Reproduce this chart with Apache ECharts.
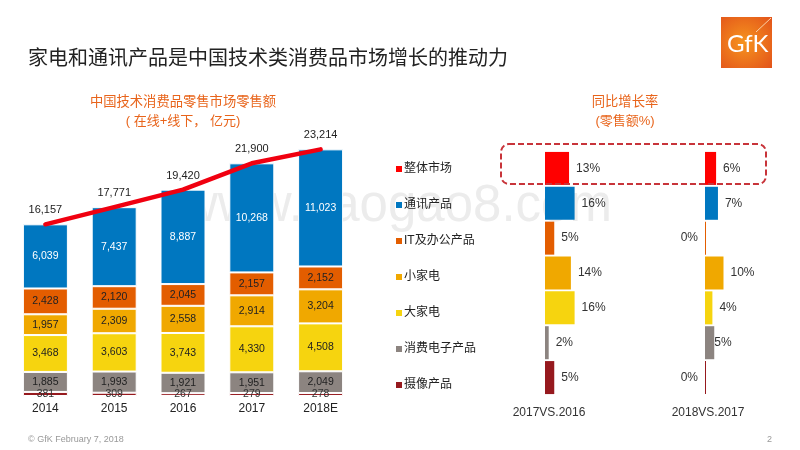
<!DOCTYPE html>
<html>
<head>
<meta charset="utf-8">
<style>html,body{margin:0;padding:0;background:#fff}</style>
<script src="https://cdn.jsdelivr.net/npm/echarts@6/dist/echarts.min.js"></script>
</head>
<body>
<div id="main" style="width:800px;height:450px"></div>
<script>
var FONT = '"Liberation Sans","Noto Sans CJK SC",sans-serif';

var years = ['2014','2015','2016','2017','2018E'];
var totals = [16157,17771,19420,21900,23214];
// stacked from the bottom up
var camera = [381,309,267,279,278];
var consumerElec = [1885,1993,1921,1951,2049];
var bigAppl = [3468,3603,3743,4330,4508];
var smallAppl = [1957,2309,2558,2914,3204];
var itOffice = [2428,2120,2045,2157,2152];
var telecom = [6039,7437,8887,10268,11023];

var categories = ['整体市场','通讯产品','IT及办公产品','小家电','大家电','消费电子产品','摄像产品'];
var colors = ['#ff0000','#0077c0','#e35d00','#f0a800','#f6d40f','#8c8480','#96191e'];
var growth1716 = [13,16,5,14,16,2,5];
var growth1817 = [6,7,0,10,4,5,0];
var compareLabels = ['2017VS.2016','2018VS.2017'];

var myChart = echarts.init(document.getElementById('main'));
var series = [];

function addGrowth(values, idx){
	categories.forEach(function(name, i){
		series.push({
			name: name,
			type: 'bar',
			xAxisIndex: idx,
			yAxisIndex: idx,
			stack: 'g' + idx,
			barWidth: 33,
			barMinHeight: 1,
			itemStyle: {color: colors[i]},
			label: {
				show: true,
				position: values[i] === 0 ? 'left' : 'right',
				distance: (idx === 2 && i === 5) ? 0 : 7,
				formatter: '{c}%',
				fontSize: 12,
				fontFamily: FONT,
				color: '#333'
			},
			data: categories.map(function(c, j){ return j === i ? values[i] : null; })
		});
	});
}
addGrowth(growth1716, 1);
addGrowth(growth1817, 2);

function addStack(name, color, values, labelColor){
	series.push({
		name: name,
		type: 'bar',
		stack: 'total',
		xAxisIndex: 0,
		yAxisIndex: 0,
		barWidth: 45,
		itemStyle: {color: color, borderColor: '#fff', borderWidth: 1},
		label: {
			show: true,
			position: 'inside',
			fontSize: 10.5,
			fontFamily: FONT,
			color: labelColor,
			formatter: function(p){ return p.value.toLocaleString('en-US'); }
		},
		data: values
	});
}
addStack('摄像产品', colors[6], camera, '#333');
addStack('消费电子产品', colors[5], consumerElec, '#222');
addStack('大家电', colors[4], bigAppl, '#222');
addStack('小家电', colors[3], smallAppl, '#222');
addStack('IT及办公产品', colors[2], itOffice, '#222');
addStack('通讯产品', colors[1], telecom, '#fff');

series.push({
	name: '整体市场',
	type: 'line',
	xAxisIndex: 0,
	yAxisIndex: 0,
	z: 5,
	symbol: 'circle',
	symbolSize: 3,
	showSymbol: true,
	lineStyle: {color: '#f00010', width: 4.5, cap: 'round', join: 'round'},
	itemStyle: {color: '#f00010'},
	label: {
		show: true,
		position: 'top',
		distance: 7,
		fontSize: 11,
		fontFamily: FONT,
		color: '#222',
		formatter: function(p){ return p.value.toLocaleString('en-US'); }
	},
	data: totals
});

function text(str, x, y, size, color, align){
	return {text: str, left: x, top: y, padding: 0, textAlign: align || 'left',
		textStyle: {fontSize: size, color: color, fontWeight: 'normal', fontFamily: FONT}};
}

var option = {
	animation: false,
	title: [
		text('家电和通讯产品是中国技术类消费品市场增长的推动力', 28, 49, 20, '#222'),
		text('中国技术消费品零售市场零售额', 183, 96, 13.3, '#e8641b', 'center'),
		text('( 在线+线下， 亿元)', 183, 115, 13, '#e8641b', 'center'),
		text('同比增长率', 625, 96, 13.3, '#e8641b', 'center'),
		text('(零售额%)', 625, 115, 13, '#e8641b', 'center'),
		text(compareLabels[0], 549, 407, 12, '#333', 'center'),
		text(compareLabels[1], 708, 407, 12, '#333', 'center'),
		text('© GfK February 7, 2018', 28, 435, 9, '#999'),
		text('2', 767, 435, 9, '#999')
	],
	legend: {
		orient: 'vertical',
		left: 396,
		top: 163,
		padding: 0,
		itemWidth: 6,
		itemHeight: 6,
		itemGap: 24,
		selectedMode: false,
		textStyle: {fontSize: 12, color: '#222', fontFamily: FONT, padding: [0,0,0,-3]},
		data: categories.map(function(c, i){
			return {name: c, icon: 'rect', itemStyle: {color: colors[i]}};
		})
	},
	grid: [
		{left: 11, top: 141, width: 344, height: 255},
		{left: 545, top: 151, width: 148, height: 244},
		{left: 705, top: 151, width: 74, height: 244}
	],
	xAxis: [
		{type: 'category', gridIndex: 0, data: years,
			axisLine: {show: false}, axisTick: {show: false},
			axisLabel: {fontSize: 12, color: '#222', fontFamily: FONT, margin: 7}},
		{type: 'value', gridIndex: 1, min: 0, max: 80, show: false},
		{type: 'value', gridIndex: 2, min: 0, max: 40, show: false}
	],
	yAxis: [
		{type: 'value', gridIndex: 0, min: 0, max: 24000, show: false},
		{type: 'category', gridIndex: 1, inverse: true, data: categories, show: false},
		{type: 'category', gridIndex: 2, inverse: true, data: categories, show: false}
	],
	graphic: [
		{type: 'text', z: -1, left: 181, top: 181, silent: true,
			style: {text: 'www.baogao8.com', fontSize: 51, fontFamily: FONT, fill: '#ececec'}},
		{type: 'rect', z: 10, shape: {x: 501, y: 144, width: 265, height: 40, r: 8}, silent: true,
			style: {fill: 'none', stroke: '#c8343a', lineWidth: 2, lineDash: [6, 3]}},
		{type: 'rect', z: 10, shape: {x: 721, y: 17, width: 51, height: 51}, silent: true,
			style: {fill: new echarts.graphic.RadialGradient(0.45, 0.5, 0.75, [
				{offset: 0, color: '#f6941e'}, {offset: 1, color: '#e2521a'}])}},
		{type: 'line', z: 11, shape: {x1: 756, y1: 32, x2: 771, y2: 18}, silent: true,
			style: {stroke: '#fbd3a8', lineWidth: 1}},
		{type: 'text', z: 11, left: 727, top: 32, silent: true,
			style: {text: 'GfK', fontSize: 24, fontFamily: '"Lato",sans-serif', fill: '#fff'}}
	],
	series: series
};
myChart.setOption(option);
</script>
</body>
</html>
